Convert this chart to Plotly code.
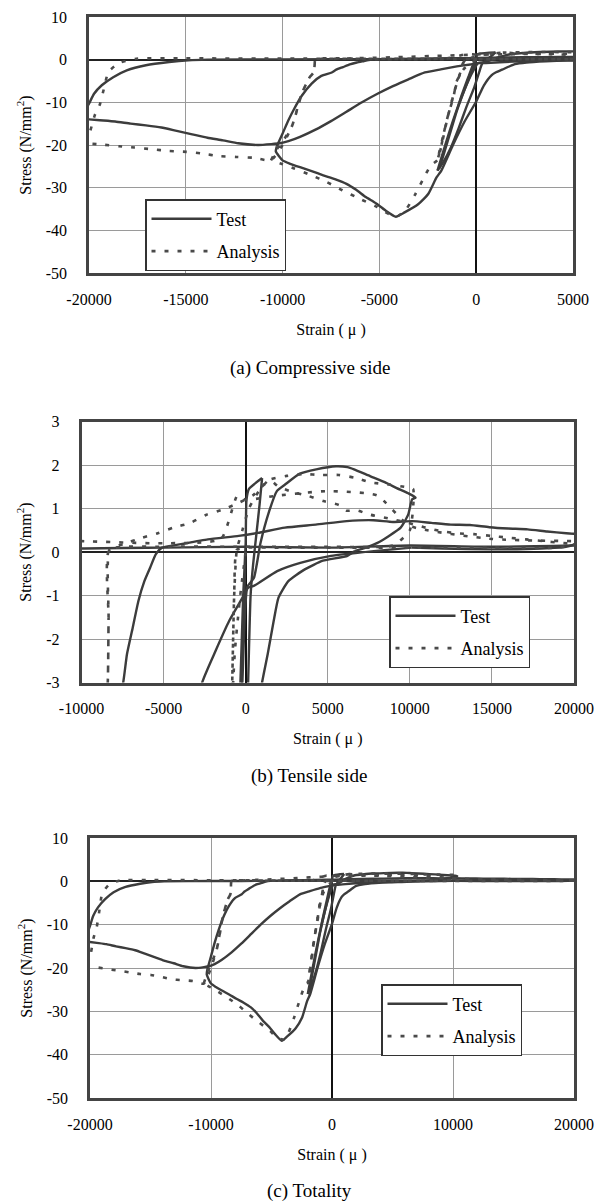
import plotly.graph_objects as go

# ---------------- data (strain in micro, stress in N/mm2) ----------------
# Test: loading history, one list per branch
test_b1_x = [0, -250, -600, -1000, -1400, -1900, -1600, -1200, -800, -400, -150, 0, 50, 200, 1000]
test_b1_y = [0, -3, -7, -12, -18, -25.5, -21, -15, -9, -4, -1, 0.2, 1.2, 1.45, 1.7]
test_b2_x = [1000, 850, 650, 450, 300, 150, -100, -500, -900, -1300, -1700, -2000]
test_b2_y = [1.7, 1.1, 0.4, -0.3, -1, -3, -6.5, -11, -16, -20.5, -24, -26]
test_b3_x = [-2000, -1600, -1100, -600, -200, 100, 500, 900, 1400, 1900, 2400, 3300, 4300, 5500, 6200,
             6600, 7600, 8500, 9200, 9900, 10350, 10140, 9900, 9440, 8730, 8030, 7320, 6620]
test_b3_y = [-26, -20, -13, -7, -3, -0.8, -0.6, 0.2, 0.9, 1.4, 1.55, 1.8, 1.9, 1.97, 1.95,
             1.9, 1.74, 1.6, 1.47, 1.35, 1.25, 1.21, 0.86, 0.56, 0.37, 0.21, 0.1, 0.02]
test_b4_x = [6620, 6200, 4700, 3600, 2600, 2000, 1700, 1340, 1000, 800, 400, 0, -600, -1200, -1800,
             -2050, -2480, -3000, -3700, -4150, -4730, -5200, -5700, -6200, -6700, -7300, -7900, -8500,
             -9100, -9600, -10000, -10350, -10300]
test_b4_y = [0.02, -0.09, -0.2, -0.4, -0.67, -1.05, -1.6, -2.35, -3, -3.6, -6, -9.8, -14.5, -20, -26,
             -27.6, -31.5, -33.9, -35.8, -36.8, -35.2, -33.6, -32.2, -30.5, -29.1, -28, -27.1, -26.1,
             -25.2, -24.4, -23.6, -21.5, -20.3]
test_b5_x = [-10300, -10000, -9700, -9400, -9000, -8500, -8000, -7460, -7230, -6880, -6530, -6170, -5820,
             -5470, -5100, -3940, -2300, -420, 750, 2390, 4270, 6150, 7790, 8970, 10140, 11310, 12490,
             13660, 14840, 16000, 17180, 18360, 19530, 20300, 20100, 19500, 18000, 15000, 12000, 10100]
test_b5_y = [-20.3, -17.3, -14.2, -11.5, -8.4, -5.6, -3.8, -3, -2.35, -1.74, -1.12, -0.67, -0.36,
             -0.05, 0.1, 0.18, 0.29, 0.37, 0.44, 0.56, 0.63, 0.71, 0.73, 0.69, 0.71, 0.67, 0.63,
             0.62, 0.57, 0.54, 0.52, 0.47, 0.43, 0.4, 0.2, 0.12, 0.08, 0.06, 0.08, 0.1]
test_b6_x = [10100, 7800, 5200, 3330, 1920, 500, 160, -300, -1000, -1830, -2650, -3500, -4300, -5100,
             -5900, -6700, -7500, -8300, -9100, -9700, -10150, -10580, -11270, -12290, -13080, -13880,
             -14670, -15470, -16260, -17060, -17850, -18650, -19440, -20500]
test_b6_y = [0.1, 0.02, -0.09, -0.25, -0.44, -0.78, -0.82, -1.12, -1.58, -2.27, -3, -4.6, -6.2, -8.0,
             -10.0, -12.2, -14.4, -16.4, -18.1, -19.1, -19.6, -19.8, -20.0, -19.6, -18.9, -18.3,
             -17.5, -16.7, -15.9, -15.4, -15, -14.5, -14.2, -13.8]
test_b7_x = [-20300, -20000, -19740, -19340, -18750, -18050, -17060, -15860, -14870, -13880, -10000,
             -5000, 0, 5000, 10000, 15000, 20000]
test_b7_y = [-12.5, -10.3, -8, -6, -4.1, -2.5, -1.3, -0.55, -0.15, 0, 0.08, 0.1, 0.12, 0.1, 0.15, 0.12, 0.15]

# Analysis
ana_b1_x = [0, -330, -660, -1010, -1180, -1440, -1650, -1820, -2000, -1500, -1100, -820, -700, -540,
            -200, 200, 800, 1450, 2000, 2860, 3800, 4740, 5680, 6150, 6740, 7560, 8970, 9900, 10960,
            11900, 12840, 13900, 14950, 16000, 17070, 18120, 19180, 20200]
ana_b1_y = [0, -1, -2.3, -5.1, -8.9, -12.8, -16.7, -20.6, -23.5, -14, -7, -3, -1, 0.05,
            0.5, 1.0, 1.4, 1.66, 1.5, 1.38, 1.29, 1.17, 1.08, 0.95, 0.96, 0.86, 0.75, 0.67, 0.56,
            0.48, 0.43, 0.41, 0.37, 0.33, 0.29, 0.25, 0.21, 0.18]
ana_b2_x = [20200, 19000, 15000, 10000, 5000, 2000, 0, -540, -700, -820, -1100, -1500, -2000, -2350,
            -2740, -3140, -3610, -4000, -4500, -5130, -6020, -6920, -7710, -8510, -9400, -10000, -10600]
ana_b2_y = [0.18, 0.1, 0.1, 0.1, 0.1, 0.1, 0.1, 0.05, -1, -3, -7, -14, -23.5, -24.8,
            -28, -31.5, -35, -36.5, -36.2, -34.5, -32.6, -30.6, -28.7, -27.1, -25.5, -24.5, -23.6]
ana_b3_x = [-10600, -10300, -9900, -9500, -9200, -9000, -8600, -8400, -8350, -8300, -7460, -6290, -5350,
            -4410, -3360, -2420, -1360, -420, 500, 1450, 2500, 3570, 4600, 5680, 6620, 7600, 8740, 9790,
            10200, 10000, 9000, 5000, 0, -5000, -8300, -8350, -8400, -8600, -9000, -9500, -10000, -10600,
            -11490, -12390, -13280, -14170, -14970, -15860, -16760, -17650, -18450, -19340, -20500]
ana_b3_y = [-23.6, -21, -18.5, -15.4, -11, -7.8, -4.1, -3, -1.5, 0.05, 0.18, 0.33, 0.43,
            0.56, 0.67, 0.85, 0.98, 1.13, 1.32, 1.66, 1.75, 1.79, 1.77, 1.77, 1.71, 1.6, 1.55, 1.49,
            1.45, 0.5, 0.15, 0.12, 0.12, 0.12, 0.05, -1.5, -3, -4.1, -7.8, -15.4, -20, -23.6,
            -23, -22.8, -22.6, -22, -21.6, -21.4, -21, -20.6, -20.3, -19.9, -19.5]
ana_b4_x = [-20300, -20000, -19700, -19440, -19240, -19000, -18450, -17550, -15000, -10000, -5000, -1500,
            -500, 0, 2000, 5000, 8000, 10000, 15000, 20000]
ana_b4_y = [-19, -17.5, -13, -10.5, -7, -2.9, -0.8, 0.2, 0.3, 0.25, 0.2, 0.3,
            1.3, 1.2, 1.3, 1.4, 1.3, 0.6, 0.3, 0.25]

# axes / labels
panel_captions = ["(a) Compressive side", "(b) Tensile side", "(c) Totality"]
x_ranges = [[-20000, 5000], [-10000, 20000], [-20000, 20000]]
y_ranges = [[-50, 10], [-3, 3], [-50, 10]]
x_tickvals = [[-20000, -15000, -10000, -5000, 0, 5000],
              [-10000, -5000, 0, 5000, 10000, 15000, 20000],
              [-20000, -10000, 0, 10000, 20000]]
x_ticktext = [["-20000", "-15000", "-10000", "-5000", "0", "5000"],
              ["-10000", "-5000", "0", "5000", "10000", "15000", "20000"],
              ["-20000", "-10000", "0", "10000", "20000"]]
y_tickvals = [[10, 0, -10, -20, -30, -40, -50], [3, 2, 1, 0, -1, -2, -3], [10, 0, -10, -20, -30, -40, -50]]
y_ticktext = [["10", "0", "-10", "-20", "-30", "-40", "-50"],
              ["3", "2", "1", "0", "-1", "-2", "-3"],
              ["10", "0", "-10", "-20", "-30", "-40", "-50"]]
series_names = ["Test", "Analysis"]


def join(*segs):
    xs, ys = [], []
    for sx, sy in segs:
        xs += list(sx) + [None]
        ys += list(sy) + [None]
    return xs, ys


test_x, test_y = join((test_b1_x, test_b1_y), (test_b2_x, test_b2_y), (test_b3_x, test_b3_y),
                      (test_b4_x, test_b4_y), (test_b5_x, test_b5_y), (test_b6_x, test_b6_y),
                      (test_b7_x, test_b7_y))
ana_x, ana_y = join((ana_b1_x, ana_b1_y), (ana_b2_x, ana_b2_y), (ana_b3_x, ana_b3_y), (ana_b4_x, ana_b4_y))

# ---------------- layout geometry (pixels) ----------------
W, H = 603, 1202
FONT = "Liberation Serif"
plots = [  # left, right, top, bottom
    (81, 565, 9, 265),
    (73.5, 566, 413.5, 674.5),
    (82, 566, 830, 1090),
]
legend_pos = [(137, 191), (381, 588), (373, 976)]
caption_y = [360, 768, 1183]

fig = go.Figure()
for i in range(3):
    sfx = "" if i == 0 else str(i + 1)
    lg = "legend" if i == 0 else "legend" + str(i + 1)
    fig.add_trace(go.Scatter(x=test_x, y=test_y, mode="lines", name=series_names[0],
                             line=dict(color="#3c3c3c", width=2.4, shape="spline", smoothing=0.5),
                             xaxis="x" + sfx, yaxis="y" + sfx, legend=lg, legendgroup="t",
                             connectgaps=False))
    fig.add_trace(go.Scatter(x=ana_x, y=ana_y, mode="lines", name=series_names[1],
                             line=dict(color="#4a4a4a", width=2.6, dash="4px,9px", shape="spline",
                                       smoothing=0.5),
                             xaxis="x" + sfx, yaxis="y" + sfx, legend=lg, legendgroup="a",
                             connectgaps=False))

layout = dict(width=W, height=H, margin=dict(l=0, r=0, t=0, b=0), paper_bgcolor="white",
              plot_bgcolor="white", font=dict(family=FONT, size=16, color="black"), annotations=[])
for i, (l, r, t, b) in enumerate(plots):
    sfx = "" if i == 0 else str(i + 1)
    layout["xaxis" + sfx] = dict(
        domain=[l / W, r / W], range=x_ranges[i], anchor="y" + sfx, tickmode="array",
        tickvals=x_tickvals[i], ticktext=x_ticktext[i], showgrid=True, gridcolor="#9a9a9a", gridwidth=1,
        zeroline=True, zerolinecolor="#111", zerolinewidth=2.2, showline=True, mirror=True,
        linecolor="#444", linewidth=2.5, ticks="", ticklabelstandoff=10, automargin=False,
        title=dict(text="Strain ( \u03bc )", font=dict(family=FONT, size=16), standoff=17),
        tickfont=dict(family=FONT, size=16))
    layout["yaxis" + sfx] = dict(
        domain=[1 - b / H, 1 - t / H], range=y_ranges[i], anchor="x" + sfx, tickmode="array",
        tickvals=y_tickvals[i], ticktext=y_ticktext[i], showgrid=True, gridcolor="#9a9a9a", gridwidth=1,
        zeroline=True, zerolinecolor="#222", zerolinewidth=1.5, showline=True, mirror=True,
        linecolor="#444", linewidth=2.5, ticks="", ticklabelstandoff=16, automargin=False,
        title=dict(text="Stress (N/mm<sup>2</sup>)", font=dict(family=FONT, size=16), standoff=11),
        tickfont=dict(family=FONT, size=16))
    lx, ly = legend_pos[i]
    layout["legend" if i == 0 else "legend" + str(i + 1)] = dict(
        x=lx / W, y=1 - ly / H, xanchor="left", yanchor="top", bgcolor="white",
        bordercolor="#333", borderwidth=1.5, font=dict(family=FONT, size=18), itemwidth=60,
        tracegroupgap=6)
    layout["annotations"].append(dict(text=panel_captions[i], x=0.5, y=1 - caption_y[i] / H,
                                      xref="paper", yref="paper", showarrow=False,
                                      font=dict(family=FONT, size=19), xanchor="center", yanchor="middle"))

fig.update_layout(**layout)
fig.write_html("out.html")
